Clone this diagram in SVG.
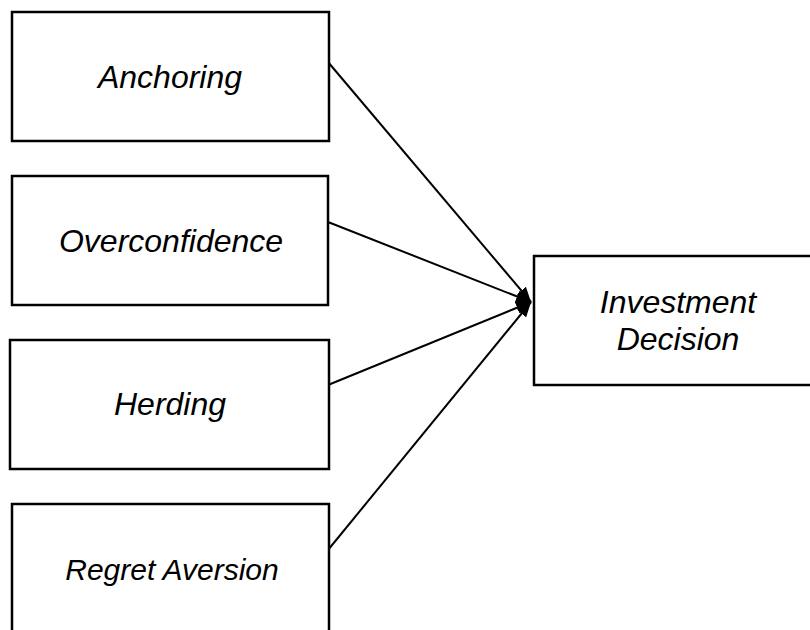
<svg xmlns="http://www.w3.org/2000/svg" width="810" height="630" viewBox="0 0 810 630">
<defs>
<style>
.box{fill:#fff;stroke:#000;stroke-width:2.5}
.lbl{font-family:"Liberation Sans",Arial,sans-serif;font-style:italic;font-size:32px;fill:#000;text-anchor:middle}
.sm{font-size:30px}
.conn{stroke:#000;stroke-width:2;fill:none;marker-end:url(#ah)}
</style>
<marker id="ah" markerUnits="userSpaceOnUse" markerWidth="16" markerHeight="12" refX="15" refY="6" orient="auto">
<path d="M0,0 L15,6 L0,12 z" fill="#000"/>
</marker>
</defs>
<rect width="810" height="630" fill="#fff"/>
<g id="connectors">
<line class="conn" x1="328" y1="62" x2="531" y2="302"/>
<line class="conn" x1="328" y1="222" x2="531" y2="302"/>
<line class="conn" x1="328" y1="385" x2="531" y2="302"/>
<line class="conn" x1="328" y1="550" x2="531" y2="302"/>
</g>
<g id="anchoring">
<rect class="box" x="12" y="12" width="317" height="129"/>
<text class="lbl" x="170" y="88">Anchoring</text>
</g>
<g id="overconfidence">
<rect class="box" x="12" y="176" width="316" height="129"/>
<text class="lbl" x="171" y="252">Overconfidence</text>
</g>
<g id="herding">
<rect class="box" x="10" y="340" width="319" height="129"/>
<text class="lbl" x="170" y="415">Herding</text>
</g>
<g id="regret-aversion">
<rect class="box" x="12" y="504" width="317" height="140"/>
<text class="lbl sm" x="172" y="580">Regret Aversion</text>
</g>
<g id="investment-decision">
<rect class="box" x="534" y="256" width="290" height="129"/>
<text class="lbl" x="678" y="313">Investment</text>
<text class="lbl" x="678" y="350">Decision</text>
</g>
</svg>
